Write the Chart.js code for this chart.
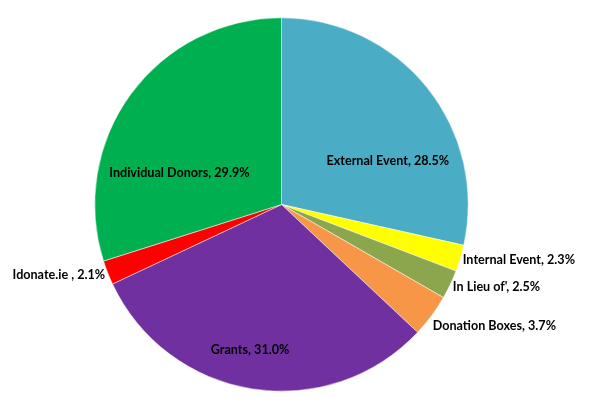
<!DOCTYPE html>
<html>
<head>
<meta charset="utf-8">
<script src="https://cdn.jsdelivr.net/npm/chart.js@4"></script>
<style>
  html, body { margin: 0; padding: 0; background: #fff; }
  #chart { display: block; }
</style>
</head>
<body>
<canvas id="chart" width="601" height="399"></canvas>
<script>
const categories = ["External Event", "Internal Event", "In Lieu of'", "Donation Boxes", "Grants", "Idonate.ie ", "Individual Donors"];
const shares = [28.5, 2.3, 2.5, 3.7, 31.0, 2.1, 29.9];
const sliceColors = ["#4BACC6", "#FFFF00", "#8BA64D", "#F79646", "#7030A0", "#FF0000", "#00B050"];

// where each label sits, relative to its slice: angle shift (deg), radius as share of outer radius
const labelLayout = [
  { inside: true, da: 16.5, r: 0.615 },
  { inside: false, da: 0.3, r: 1.015 },
  { inside: false, da: 0.3, r: 1.018 },
  { inside: false, da: 2.2, r: 1.038 },
  { inside: true, da: 3.2, r: 0.797 },
  { inside: false, da: -0.4, r: 1.017 },
  { inside: true, da: -19.1, r: 0.572 },
];

const sliceLabels = {
  id: "sliceLabels",
  afterDatasetsDraw(chart) {
    const ctx = chart.ctx;
    const arcs = chart.getDatasetMeta(0).data;
    ctx.save();
    ctx.font = "bold 12.6px Lato";
    ctx.fillStyle = "#000";
    ctx.textBaseline = "middle";
    arcs.forEach((arc, i) => {
      const lay = labelLayout[i];
      const mid = (arc.startAngle + arc.endAngle) / 2 + lay.da * Math.PI / 180;
      const r = arc.outerRadius * lay.r;
      const x = arc.x + r * Math.cos(mid);
      const y = arc.y + r * Math.sin(mid);
      const text = categories[i] + ", " + shares[i].toFixed(1) + "%";
      if (lay.inside) ctx.textAlign = "center";
      else ctx.textAlign = Math.cos(mid) >= 0 ? "left" : "right";
      ctx.fillText(text, x, y);
    });
    ctx.restore();
  }
};

new Chart(document.getElementById("chart"), {
  type: "pie",
  data: {
    labels: categories,
    datasets: [{
      data: shares,
      backgroundColor: sliceColors,
      borderColor: "#ffffff",
      borderWidth: 0.5,
    }],
  },
  options: {
    responsive: false,
    animation: false,
    devicePixelRatio: 1,
    layout: { padding: { top: 17.5, bottom: 7.5, left: 94.5, right: 132.5 } },
    plugins: {
      legend: { display: false },
      tooltip: { enabled: false },
    },
  },
  plugins: [sliceLabels],
});
</script>
</body>
</html>
